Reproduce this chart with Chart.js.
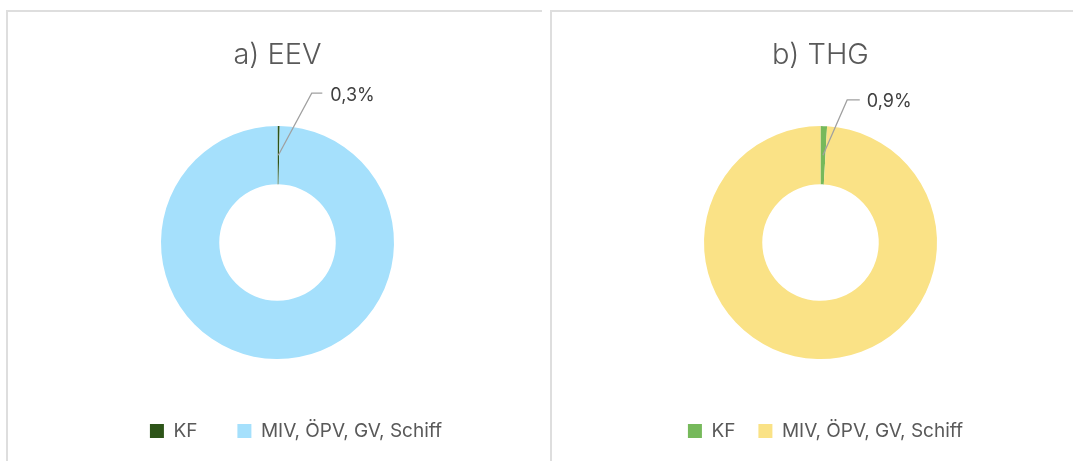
<!DOCTYPE html>
<html>
<head>
<meta charset="utf-8">
<script src="https://cdn.jsdelivr.net/npm/chart.js@4.4.1/dist/chart.umd.min.js"></script>
<style>
html,body{margin:0;padding:0;background:#fff;width:1073px;height:461px;overflow:hidden;}
.panel{position:absolute;top:10px;height:480px;border-top:2px solid #dedede;border-left:2px solid #dedede;box-sizing:border-box;}
#p1{left:6px;width:536px;}
#p2{left:550px;width:560px;}
.wrap{position:absolute;top:10px;width:534px;height:451px;}
#w1{left:8px;}
#w2{left:551px;}
</style>
</head>
<body>
<div class="panel" id="p1"></div>
<div class="panel" id="p2"></div>
<div class="wrap" id="w1"><canvas id="c1"></canvas></div>
<div class="wrap" id="w2"><canvas id="c2"></canvas></div>
<script>
// ---- data ----
const categories = ['KF', 'MIV, ÖPV, GV, Schiff'];
const eevShares = [0.3, 99.7];   // a) EEV, %
const thgShares = [0.9, 99.1];   // b) THG, %
const chartTitles = ['a) EEV', 'b) THG'];

// ---- styles ----
const eevColors = ['#2D5418', '#A5E0FC'];
const thgColors = ['#76B95B', '#FAE286'];
const FONT = 'Inter, "Open Sans", sans-serif';

function fmtPct(v) { return v.toFixed(1).replace('.', ',') + '%'; }

// extra empty layout box on the right, to shift the plot area relative to the legend
const gutter = {
  id: 'gutter',
  beforeInit(chart) {
    const box = {
      position: 'right', weight: 0, fullSize: false, options: {},
      width: 0, height: 0, left: 0, right: 0, top: 0, bottom: 0,
      isHorizontal() { return false; },
      update(maxWidth, maxHeight) {
        const o = chart.config.options.plugins && chart.config.options.plugins.gutter;
        this.width = (o && o.size) || 0;
        this.height = maxHeight;
      },
      draw() {}
    };
    Chart.layouts.addBox(chart, box);
  }
};

// data label with leader line for one slice
const leaderLabel = {
  id: 'leaderLabel',
  afterDatasetsDraw(chart, args, opts) {
    const ds = chart.data.datasets[0];
    const meta = chart.getDatasetMeta(0);
    const arc = meta.data[opts.index];
    if (!arc) return;
    const p = arc.getProps(['x', 'y', 'startAngle', 'endAngle', 'innerRadius', 'outerRadius'], true);
    const mid = (p.startAngle + p.endAngle) / 2;
    const r = (p.innerRadius + p.outerRadius) / 2;
    const sx = p.x + Math.cos(mid) * r;
    const sy = p.y + Math.sin(mid) * r;
    const ex = sx + opts.dx, ey = sy + opts.dy;
    const hx = ex + opts.run;
    const ctx = chart.ctx;
    ctx.save();
    ctx.strokeStyle = '#A0A0A0';
    ctx.lineWidth = 1.25;
    ctx.beginPath();
    ctx.moveTo(sx, sy);
    ctx.lineTo(ex, ey);
    ctx.lineTo(hx, ey);
    ctx.stroke();
    ctx.fillStyle = '#404040';
    ctx.font = '18px ' + FONT;
    ctx.textAlign = 'left';
    ctx.textBaseline = 'middle';
    ctx.fillText(fmtPct(ds.data[opts.index]), hx + opts.gap, ey + 2);
    ctx.restore();
  }
};

function makeChart(id, title, values, colors, cfg) {
  return new Chart(document.getElementById(id), {
    type: 'doughnut',
    data: {
      labels: categories,
      datasets: [{
        data: values,
        backgroundColor: colors,
        borderWidth: 0,
        radius: 116.5,
        cutout: '50%'
      }]
    },
    plugins: [gutter, leaderLabel],
    options: {
      responsive: true,
      maintainAspectRatio: false,
      animation: false,
      layout: { padding: { left: cfg.pl, right: 0, top: 0, bottom: 10.5 } },
      plugins: {
        gutter: { size: cfg.gutter },
        leaderLabel: cfg.label,
        tooltip: { enabled: false },
        title: {
          display: true,
          text: title,
          fullSize: false,
          color: '#595959',
          font: { family: FONT, size: 29, weight: '300' },
          padding: { top: 28, bottom: cfg.titleGap }
        },
        legend: {
          position: 'bottom',
          labels: {
            boxWidth: 14,
            boxHeight: 14,
            padding: cfg.legendPad,
            color: '#595959',
            font: { family: FONT, size: 19 }
          }
        }
      }
    }
  });
}

makeChart('c1', chartTitles[0], eevShares, eevColors, {
  pl: 42, gutter: 37, titleGap: 30.9, legendPad: 40,
  label: { index: 0, dx: 33.4, dy: -62, run: 10.6, gap: 8 }
});
makeChart('c2', chartTitles[1], thgShares, thgColors, {
  pl: 15, gutter: 10, titleGap: 13.9, legendPad: 23,
  label: { index: 0, dx: 24.2, dy: -55.3, run: 12.6, gap: 7 }
});
</script>
</body>
</html>
